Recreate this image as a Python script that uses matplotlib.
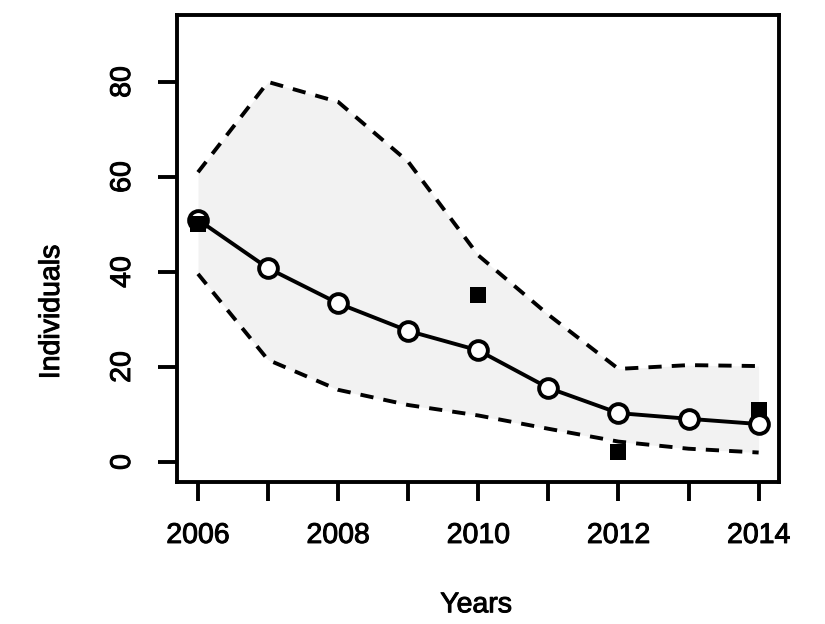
import matplotlib
matplotlib.use("Agg")
import matplotlib.pyplot as plt
import matplotlib.patheffects as pe

# data
years = [2006, 2007, 2008, 2009, 2010, 2011, 2012, 2013, 2014]
mean_ind = [51, 40.8, 33.4, 27.6, 23.5, 15.6, 10.3, 9.1, 8.0]
upper_ind = [61, 80, 75.8, 63.2, 43.5, 31, 19.6, 20.4, 20.2]
lower_ind = [39.6, 21.5, 15.2, 12.0, 9.8, 7.0, 4.3, 2.8, 2.0]

obs_years = [2006, 2010, 2012, 2014]
obs_ind = [50, 35.2, 2.1, 10.9]

xticks = years
xticklabels = ["2006", "", "2008", "", "2010", "", "2012", "", "2014"]
yticks = [0, 20, 40, 60, 80]

plt.rcParams['font.family'] = ['Liberation Sans', 'DejaVu Sans']

LW = 2.8
thick = [pe.withStroke(linewidth=0.7, foreground="black")]

fig = plt.figure(figsize=(8.25, 6.24), dpi=100)
ax = fig.add_axes([0.2145, 0.2276, 0.7297, 0.7484])

# credible band
ax.fill_between(years, lower_ind, upper_ind, color="#f2f2f2", lw=0, zorder=1)
ax.plot(years, upper_ind, color="black", lw=LW, ls=(0, (3.4, 2.6)), zorder=2)
ax.plot(years, lower_ind, color="black", lw=LW, ls=(0, (3.4, 2.6)), zorder=2)

# observed counts (all but the first sit under the circles)
ax.plot(obs_years[1:], obs_ind[1:], "s", color="black", ms=12, mew=0, zorder=3)

# estimated mean
ax.plot(years, mean_ind, "-o", color="black", lw=LW, ms=13.5, mfc="white",
        mec="black", mew=LW, zorder=4)

ax.plot(obs_years[:1], obs_ind[:1], "s", color="black", ms=12, mew=0, zorder=5)

ax.set_xlim(2005.70, 2014.29)
ax.set_ylim(-4.2, 94.1)

ax.set_xticks(xticks)
ax.set_xticklabels(xticklabels)
ax.set_yticks(yticks)
ax.set_yticklabels([str(v) for v in yticks], rotation=90, va="center")

ax.tick_params(axis="both", direction="out", length=13.5, width=LW,
               labelsize=20.5, pad=16)
for lab in ax.get_xticklabels() + ax.get_yticklabels():
    lab.set_path_effects(thick)

for s in ax.spines.values():
    s.set_linewidth(LW)

fig.text(0.063, 0.5, "Individuals", rotation=90, ha="center", va="center",
         fontsize=20.5, path_effects=thick)
fig.text(0.577, 0.03, "Years", ha="center", va="center", fontsize=20.5,
         path_effects=thick)

fig.savefig("out.png", dpi=100)
